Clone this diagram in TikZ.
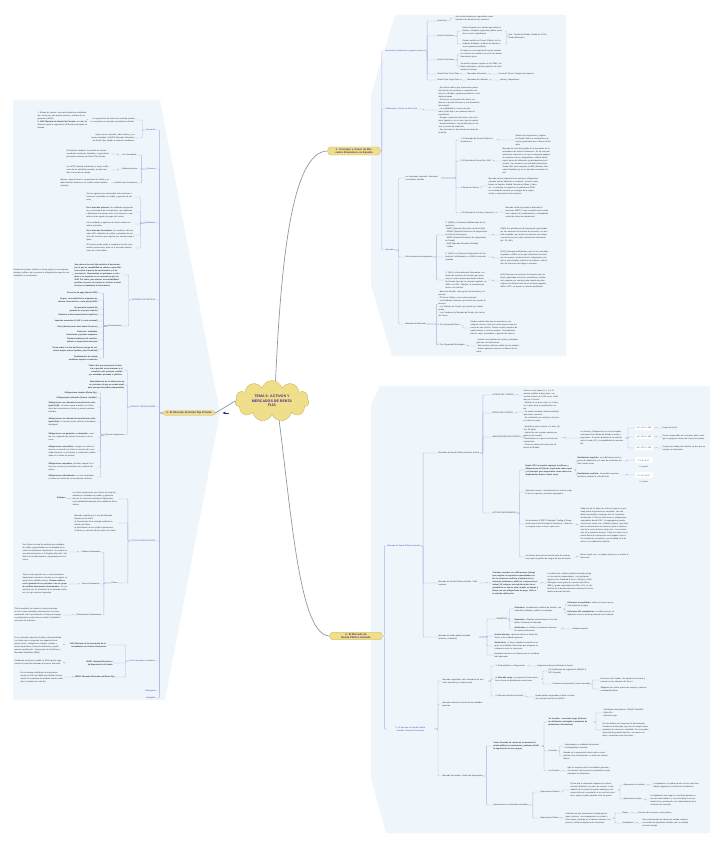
\documentclass[tikz,border=0pt]{standalone}
\usepackage{fontspec}
\setmainfont{Liberation Sans}
\usetikzlibrary{shapes.symbols,arrows.meta}
\definecolor{panel}{HTML}{EEF6FC}
\definecolor{brc}{HTML}{B2B0E0}
\definecolor{labc}{HTML}{5B3FA8}
\definecolor{txtc}{HTML}{333333}
\definecolor{hdrc}{HTML}{EFDF8A}
\definecolor{hdrd}{HTML}{CDB860}
\definecolor{hdrt}{HTML}{4B2D8E}
\definecolor{mcc}{HTML}{8D98AA}
\definecolor{arrc}{HTML}{2E2A8C}
\newcommand\tfs{\fontsize{2.0}{3}\selectfont}
\newcommand\hfs{\fontsize{2.6}{3.3}\selectfont\bfseries}
\tikzset{
  tx/.style={font=\tfs, align=left, inner sep=0.3pt, text=txtc, anchor=west},
  txr/.style={font=\tfs, align=right, inner sep=0.3pt, text=txtc, anchor=east},
  lab/.style={tx, text=labc},
  labr/.style={txr, text=labc},
  bx/.style={font=\tfs\bfseries},
  hdr/.style={fill=hdrc, draw=hdrd, line width=0.3pt, rounded corners=3pt, font=\hfs, text=hdrt, align=center, inner sep=1.2pt},
  br/.style={draw=brc, line width=0.35pt, rounded corners=0.8pt},
  mc/.style={draw=mcc, line width=0.7pt},
  fbox/.style={fill=white, rounded corners=1pt, font=\fontsize{1.9}{2.5}\selectfont, inner sep=1.2pt, text=txtc, minimum width=18pt},
  capt/.style={font=\fontsize{1.8}{2.4}\selectfont, text=txtc, inner sep=0.3pt},
}
\newcommand\rcon[3]{\draw[br] (#1.east) -- ++(#3,0) |- (#2.west);}
\newcommand\lcon[3]{\draw[br] (#1.west) -- ++(-#3,0) |- (#2.east);}
\begin{document}
\begin{tikzpicture}[x=1pt,y=-1pt]
\useasboundingbox (0,0) rectangle (724,848);
\fill[white] (0,0) rectangle (724,848);
% panels
\fill[panel] (395,15) -- (566,15) -- (566,356) -- (392,356) -- (371,285) -- (371,95) -- cycle;
\fill[panel] (380,386) -- (710,386) -- (710,833) -- (386,833) -- (371,778) -- (371,405) -- cycle;
\fill[panel] (13,100) -- (160,100) -- (220,413) -- (165,700) -- (13,700) -- cycle;

% central
\node[cloud, cloud puffs=11, aspect=1.9, fill=hdrc, draw=hdrd, line width=0.4pt, minimum width=74pt, minimum height=40pt, inner sep=0pt, font=\fontsize{3.6}{4.6}\selectfont\bfseries, text=hdrt, align=center] (ct) at (272,401) {TEMA 5: ACTIVOS Y\\MERCADOS DE RENTA\\FIJA};

\node[hdr, text width=50] (b1) at (354,151) {1. Concepto y clases de Mercados Financieros en España};
\node[hdr, text width=50] (b2) at (356,636) {2. El Mercado de Deuda Pública Anotado};
\node[hdr, text width=50] (b3) at (189,413) {3. El Mercado de Renta Fija Privada};

\draw[mc] (ct.80) .. controls (281,260) and (292,151) .. (b1.west);
\draw[mc] (ct.290) .. controls (292,520) and (300,636) .. (b2.west);
\draw[mc] (ct.west) -- (b3.east);
\draw[arrc, line width=0.6pt, -{Latex[length=3pt,width=3pt]}] ([xshift=14pt]b3.east) -- ([xshift=7pt]b3.east);

%================ TOP PANEL =================
\node[lab] (p1) at (385,51) {Innovación, instrumentos y agentes emisores};
\node[lab] (p2) at (385,109) {Definiciones: Pasivos de Renta Fija};
\node[lab] (p3) at (385,250) {Mercados};
\rcon{b1}{p1}{1.5}\rcon{b1}{p2}{1.5}\rcon{b1}{p3}{1.5}

\node[tx] (c11) at (437,21) {Renta Fija};
\node[tx, text width=40] (c11a) at (455,18) {Son activos financieros negociables representativos de deuda de sus emisores};
\node[tx] (c12) at (437,36) {Renta Fija Pública};
\node[tx, text width=42] (c12a) at (462,31) {Están integrados por valores que emiten el Estado o cualquier organismo público (emitidos en serie o plataforma)};
\node[tx, text width=42] (c12b) at (462,44) {Pueden emitirlos el Tesoro Público, las Sociedades Estatales, el Banco de España y otros organismos públicos};
\node[tx, text width=44] (c12c) at (508,36) {Ejm.: Deuda del Estado, Deuda de CCAA, Deuda Municipal...};
\node[tx] (c13) at (437,60) {Renta Fija Privada};
\node[tx, text width=43] (c13a) at (460,54) {El emisor es una empresa del sector privado. Los valores son emitidos con el fin de obtener financiación ajena};
\node[tx, text width=43] (c13b) at (460,67) {Su emisión requiere registro en la CNMV, con folleto informativo y demás requisitos de información al inversor};
\node[tx] (c14) at (437,74) {Renta Fija a Corto Plazo};
\node[tx] (c14a) at (467,74) {Mercados Monetarios};
\node[tx] (c14b) at (498,74) {Letras del Tesoro, Pagarés de empresa...};
\node[tx] (c15) at (437,80) {Renta Fija a Largo Plazo};
\node[tx] (c15a) at (467,80) {Mercados de Capitales};
\node[tx] (c15b) at (500,80) {Bonos y obligaciones};
\rcon{p1}{c11}{1}\rcon{p1}{c12}{1}\rcon{p1}{c13}{1}\rcon{p1}{c14}{1}\rcon{p1}{c15}{1}
\rcon{c11}{c11a}{3}
\rcon{c12}{c12a}{3}\rcon{c12}{c12b}{3}
\rcon{c12a}{c12c}{1.5}\rcon{c12b}{c12c}{1.5}
\rcon{c13}{c13a}{3}\rcon{c13}{c13b}{3}
\rcon{c14}{c14a}{1}\rcon{c14a}{c14b}{2}
\rcon{c15}{c15a}{1}\rcon{c15a}{c15b}{2}

\node[tx, text width=42] (d1) at (438,110) {- Son títulos valores que representan partes alícuotas de un préstamo o empréstito emitido por el Estado, organismos públicos o entidades privadas.\\- El inversor es acreedor del emisor, con derecho a percibir intereses y a la devolución del principal.\\- La rentabilidad se conoce de antemano (renta fija) si se mantiene hasta el vencimiento.\\- Riesgos: insolvencia del emisor, tipo de interés, liquidez y, en su caso, tipo de cambio.\\- Normativa básica: Ley del Mercado de Valores y normas de desarrollo.\\- Sus mercados se denominan mercados de renta fija.};
\rcon{p2}{d1}{6}

\node[tx, text width=35] (m1) at (405,178) {Los mercados regulados: Mercados secundarios oficiales};
\node[tx] (m2) at (405,257) {Otros sistemas de negociación};
\node[tx] (m3) at (405,324) {Miembros del Mercado};
\rcon{p3}{m1}{4}\rcon{p3}{m2}{4}\rcon{p3}{m3}{4}

\node[tx, text width=35] (m11) at (460,140) {1. El Mercado de Deuda Pública en Anotaciones};
\node[tx, text width=36] (m11a) at (515,140) {Sistema de negociación y registro de Deuda Pública en anotaciones en cuenta, gestionado por el Banco de España};
\node[tx] (m12) at (460,161) {2. El Mercado de Renta Fija: AIAF};
\node[tx, text width=48] (m12a) at (502,161) {Mercado de renta fija privada de la Asociación de Intermediarios de Activos Financieros. Es un mercado electrónico mayorista en el que se negocian pagarés de empresa, bonos y obligaciones, cédulas hipotecarias, bonos de titulización y participaciones preferentes. Sus miembros son entidades financieras. Desde 2001 está integrado en BME (Bolsas y Mercados Españoles) y es un mercado secundario oficial.};
\node[tx] (m13) at (460,188) {3. Bolsas de Valores};
\node[tx, text width=50] (m13a) at (488,186) {Mercado para la negociación de acciones, obligaciones y demás valores admitidos a cotización. Existen cuatro bolsas en España: Madrid, Barcelona, Bilbao y Valencia. La renta fija se negocia en la plataforma SEND. Las sociedades rectoras se encargan de la organización y supervisión de las sesiones.};
\node[tx] (m14) at (460,213) {4. El Mercado de Futuros y Opciones};
\node[tx, text width=45] (m14a) at (505,212) {Mercado oficial de productos derivados financieros (MEFF), cuya sociedad rectora actúa como cámara de compensación y contrapartida central de todas las operaciones.};
\rcon{m1}{m11}{15}\rcon{m1}{m12}{15}\rcon{m1}{m13}{15}\rcon{m1}{m14}{15}
\rcon{m11}{m11a}{2}\rcon{m12}{m12a}{2}\rcon{m13}{m13a}{2}\rcon{m14}{m14a}{2}

\node[tx, text width=42] (m21) at (445,235) {1. (SMN) Los Sistemas Multilaterales de Negociación:\\- MARF (Mercado Alternativo de Renta Fija)\\- SENAF (Sistema Electrónico de Negociación de Activos Financieros)\\- SEND (Sistema Electrónico de Negociación de Deuda)\\- MAB (Mercado Alternativo Bursátil)\\- Latibex};
\node[tx, text width=48] (m21a) at (500,235) {(SMN) Son plataformas de negociación gestionadas por una empresa de servicios de inversión o un mercado regulado, que reúnen los intereses de compra y venta de terceros sobre instrumentos financieros (art. 26 LMV).};
\node[tx, text width=42] (m22) at (445,257) {2. (SOC) Los Sistemas Organizados de Contratación: multilaterales, no SMN ni mercado regulado.};
\node[tx, text width=48] (m22a) at (500,258) {(SOC) Sistemas multilaterales, que no son mercados regulados ni SMN, en los que interactúan los intereses de compra y venta de bonos, obligaciones, productos estructurados, derechos de emisión o derivados, de forma que den lugar a contratos.};
\node[tx, text width=42] (m23) at (445,280) {3. (SIS) La Internalización Sistemática: empresas de servicios de inversión que negocian por cuenta propia ejecutando órdenes de clientes fuera de un mercado regulado, un SMN o un SOC. Objetivo: la transparencia frente a los clientes.};
\node[tx, text width=48] (m23a) at (500,281) {(SIS) Empresas de servicios de inversión que, de forma organizada, frecuente, sistemática y sustancial, negocian por cuenta propia cuando ejecutan órdenes de clientes fuera de un mercado regulado, SMN o SOC, sin operar un sistema multilateral.};
\rcon{m2}{m21}{3}\rcon{m2}{m22}{3}\rcon{m2}{m23}{3}
\rcon{m21}{m21a}{5}\rcon{m22}{m22a}{5}\rcon{m23}{m23a}{5}

\node[tx, text width=48] (m31) at (438,304) {- Banco de España, como gestor del mercado y supervisor.\\- El Tesoro Público, como emisor principal.\\- Las Entidades Gestoras, que actúan por cuenta de terceros.\\- Los Titulares de Cuenta, que operan por cuenta propia.\\- Los Creadores de Mercado de Deuda y de Letras del Tesoro.};
\node[tx] (m32) at (437,325) {1. Con Capacidad Plena};
\node[tx, text width=48] (m32a) at (470,328) {Pueden realizar todo tipo de operaciones con cualquier tercero, tanto por cuenta propia como por cuenta de sus clientes. Deben cumplir requisitos de capital mínimo y recursos propios. Principalmente bancos, cajas, sociedades y agencias de valores.};
\node[tx] (m33) at (437,345) {2. Con Capacidad Restringida};
\node[tx, text width=44] (m33a) at (476,346) {- Actúan como titulares de cuenta y entidades gestoras con limitaciones.\\- Sólo pueden mantener saldos de sus clientes.\\- Deben mantener cuenta en el Banco de España.};
\rcon{m3}{m31}{10}\rcon{m3}{m32}{10}\rcon{m3}{m33}{10}
\rcon{m32}{m32a}{3}\rcon{m33}{m33a}{3}

%================ BOTTOM PANEL =================
\node[lab] (q1) at (387,546) {Mercado de Deuda Pública Anotada};
\node[lab, text width=46, align=center] (q2) at (387,729) {2. El Mercado de Deuda Pública Anotado. Mercado Secundario};
\rcon{b2}{q1}{2}\rcon{b2}{q2}{2}

\node[tx] (q11) at (438,453) {Mercados de Deuda Pública Anotada. Activos};
\node[tx, text width=40] (q12) at (438,583) {Mercado de Deuda Pública Anotada. Calificaciones};
\node[tx, text width=40] (q13) at (438,637) {Mercado de deuda pública anotada (emisión y subastas)};
\rcon{q1}{q11}{3}\rcon{q1}{q12}{3}\rcon{q1}{q13}{3}

\node[tx] (q111) at (492,395) {LETRAS DEL TESORO};
\node[tx, text width=36] (q111a) at (523,395) {Activos a corto plazo (3, 6, 9 y 12 meses) emitidos al descuento, con nominal mínimo de 1.000 euros. Emitidas por el Tesoro};
\node[tx] (q112) at (492,413) {BONOS DEL ESTADO};
\node[tx, text width=36] (q112a) at (523,412) {- Emitidos a un plazo entre 2 y 5 años, con cupón anual y amortización a la par.\\- Se emiten mediante subasta ordinaria quincenal o mensual.\\- Su rendimiento es explícito y el precio se cotiza ex-cupón.};
\node[tx] (q113) at (492,437) {OBLIGACIONES DEL ESTADO};
\node[tx, text width=37] (q113a) at (523,437.5) {- Emitidas a plazo superior a 5 años (10, 15 y 30 años).\\- Interés fijo con cupones anuales pagaderos por vencido.\\- Amortización a la par en la fecha de vencimiento.\\- Tienen la misma estructura que los Bonos del Estado.};
\node[tx, text width=44] (q113b) at (580,438) {Los Bonos y Obligaciones son los principales instrumentos de deuda del Estado a medio y largo plazo. Su precio depende de la relación entre el cupón (C) y la rentabilidad de mercado (R).};
\node[fbox] (fa) at (644,428) {si C = R, P = 100};
\node[fbox] (fb) at (644,437) {si C > R, P > 100};
\node[fbox] (fc) at (644,448) {si C < R, P < 100};
\node[tx] (fa1) at (662,428) {Compra a la Par};
\node[tx, text width=46] (fb1) at (662,437) {Precio comprendido en la compra, quiere decir que se paga por encima de la par (con prima).};
\node[tx, text width=44] (fc1) at (662,448) {Compra por debajo del nominal; se dice que se compra con descuento.};
\node[tx] (q114) at (492,513) {ACTIVOS SEGREGADOS};
\rcon{q11}{q111}{3}\rcon{q11}{q112}{3}\rcon{q11}{q113}{3}\rcon{q11}{q114}{3}
\rcon{q111}{q111a}{3}\rcon{q112}{q112a}{3}\rcon{q113}{q113a}{3}
\rcon{q113a}{q113b}{4}
\rcon{q113b}{fa}{3}\rcon{q113b}{fb}{3}\rcon{q113b}{fc}{3}
\rcon{fa}{fa1}{3}\rcon{fb}{fb1}{3}\rcon{fc}{fc1}{3}

\node[tx, bx, text width=48] (s1) at (525,470) {Desde 1997 se pueden segregar los Bonos y Obligaciones del Estado, separando cada cupón y el principal, para negociarlos como valores independientes (bonos cupón cero).};
\node[tx, text width=48] (s2) at (525,492) {Operación inversa: reconstitución de un bono a partir de sus cupones y principal segregados.};
\node[tx, text width=48] (s3) at (525,524) {Se denominan STRIPS (Separate Trading of Registered Interest and Principal of Securities). Cada uno se negocia como un bono cupón cero.};
\node[tx, text width=48] (s4) at (525,557) {Se utilizan tanto para la inmunización de carteras como para la gestión de riesgos de tipo de interés.};
\rcon{q114}{s1}{3}\rcon{q114}{s2}{3}\rcon{q114}{s3}{3}\rcon{q114}{s4}{3}

\node[tx, text width=45] (s1a) at (577,461) {\textbf{Rendimiento implícito:} es la diferencia entre el precio de adquisición y el valor de reembolso del título (cupón cero).};
\node[tx, text width=45] (s1b) at (577,475) {\textbf{Rendimiento explícito:} se perciben cupones periódicos durante la vida del título.};
\node[fbox] (f1) at (644,460) {P = N / (1+i)\textsuperscript{t}};
\node[capt] (f1c) at (644,467.5) {R. implícito};
\node[fbox] (f2) at (644,475) {P = Σ C / (1+i)\textsuperscript{t}};
\node[capt] (f2c) at (644,482.5) {R. explícito};
\rcon{s1}{s1a}{2}\rcon{s1}{s1b}{2}
\rcon{s1a}{f1}{4}\rcon{s1b}{f2}{4}
\node[tx, text width=48] (s3a) at (580,525) {Cada uno de los flujos de un bono (cupones y principal) puede negociarse por separado. Las entidades autorizadas a segregar son los Creadores de Mercado. El Tesoro emite bonos y obligaciones segregables desde 1997. La segregación permite crear bonos cupón cero a distintos plazos, muy útiles para la inmunización de carteras y para la construcción de la curva de tipos cupón cero. La reconstitución es la operación inversa. Todos los strips con la misma fecha de vencimiento son fungibles entre sí. Su rendimiento es implícito y su fiscalidad es la de activos con rendimiento implícito.};
\node[tx, text width=48] (s4a) at (580,556) {Bonos cupón cero: no pagan cupones y se emiten al descuento.};
\rcon{s3}{s3a}{3}\rcon{s4}{s4a}{3}

\node[tx, bx, text width=46] (q12a) at (492,583) {Conviene recordar las calificaciones (rating) que asignan las agencias especializadas sobre la solvencia crediticia y liquidez de los emisores (soberanos, públicos y empresas privadas). El rating es una opinión sobre la capacidad de un emisor para cumplir en tiempo y forma con sus obligaciones de pago. AAA es la máxima calificación.};
\node[tx, text width=46] (q12b) at (547,583) {La calificación crediticia (también llamada rating) es una opinión independiente. Las principales agencias son Standard \& Poor's, Moody's y Fitch. Distinguen entre grado de inversión (de AAA a BBB-) y grado especulativo (de BB+ a D). La calificación de la deuda soberana condiciona la de los demás emisores del país.};
\rcon{q12}{q12a}{8}\rcon{q12a}{q12b}{3}

\node[tx] (q131) at (496,619) {SUBASTAS};
\node[tx, text width=48] (q1311) at (514,609) {\textbf{Ordinarias:} procedimiento habitual de emisión, con calendario prefijado y público de subastas.};
\node[tx, text width=48] (q1312) at (514,621) {\textbf{Especiales:} dirigidas exclusivamente a las entidades Creadoras de Mercado.};
\node[tx, text width=45] (q1313) at (514,629) {\textbf{Sindicadas:} se utilizan en primeras emisiones de nuevas referencias.};
\node[tx, text width=48] (q1311a) at (567,604) {\textbf{Peticiones competitivas:} indican el precio que se está dispuesto a pagar.};
\node[tx, text width=50] (q1311b) at (567,613) {\textbf{Peticiones NO competitivas:} no indican precio; se adjudican al precio medio ponderado de la subasta.};
\node[tx] (q1313a) at (572,629) {Subasta especial};
\node[tx, text width=45] (q132) at (494,636) {\textbf{Ventas directas:} operación directa a través del Tesoro o de entidades gestoras.};
\node[tx, text width=45] (q133) at (494,646) {\textbf{Sindicación:} el Tesoro adjudica la emisión a un grupo de entidades financieras que aseguran su colocación entre los inversores.};
\node[tx, text width=45] (q134) at (494,655) {Empleado cuando es el método que se considera más adecuado.};
\rcon{q13}{q131}{8}\rcon{q13}{q132}{8}\rcon{q13}{q133}{8}\rcon{q13}{q134}{8}
\rcon{q131}{q1311}{2}\rcon{q131}{q1312}{2}\rcon{q131}{q1313}{2}
\rcon{q1311}{q1311a}{2}\rcon{q1311}{q1311b}{2}\rcon{q1313}{q1313a}{3}

\node[tx, text width=45] (q21) at (442,681) {Mercado organizado, entre miembros del mercado actuando por cuenta propia};
\node[tx, text width=45] (q22) at (442,704) {Mercado minorista a través de las entidades gestoras};
\node[tx] (q23) at (442,776) {Mercado Secundario. Ámbito de Negociación};
\rcon{q2}{q21}{4}\rcon{q2}{q22}{4}\rcon{q2}{q23}{4}

\node[tx] (q211) at (495,666) {1. Sistema Blanco o Negociación};
\node[tx] (q211a) at (537,666) {Negociación directa utilizando un broker};
\node[tx, text width=45] (q212) at (495,679) {\textbf{2. Mercado ciego:} se negocia de forma anónima a través de plataformas electrónicas};
\node[tx, text width=42] (q212a) at (548,671) {(1) Plataformas de negociación (SENAF \& MTS España)};
\node[tx] (q212b) at (552,684) {Creadores de mercado (o tercer mercado)};
\node[tx, text width=48] (q212c) at (600,680) {Funciones del Creador: dar liquidez al mercado y comprar en las subastas del Tesoro.};
\node[tx, text width=48] (q212d) at (600,689) {Obligación de cotizar precios de compra y venta en contrapartida diaria.};
\node[tx] (q213) at (495,696) {3. Mercado electrónico bursátil};
\node[tx, text width=42] (q213a) at (535,697) {Deuda pública negociada en Bolsa a través del mercado electrónico (SEND).};
\rcon{q21}{q211}{3}\rcon{q21}{q212}{3}\rcon{q21}{q213}{3}
\rcon{q211}{q211a}{3}\rcon{q212}{q212a}{2}\rcon{q212}{q212b}{2}
\rcon{q212b}{q212c}{2}\rcon{q212b}{q212d}{2}\rcon{q213}{q213a}{3}

\node[tx, bx, text width=47] (q231) at (493,746) {Como fórmulas de cuenta en el mercado de deuda pública en anotaciones, podemos dividir la negociación en tres grupos};
\node[tx] (q232) at (493,805) {Operaciones en el mercado secundario};
\rcon{q23}{q231}{3}\rcon{q23}{q232}{3}

\node[tx, bx, text width=44] (e1) at (548,722) {1er escalón: o mercado ciego (Sistema de utilización restringida a miembros de plataformas electrónicas)};
\node[tx, text width=46] (e1a) at (602,713) {- Plataformas electrónicas: SENAF, EuroMTS\\- BrokerTec\\- Mercado ciego};
\node[tx, text width=46] (e1b) at (602,730) {En este ámbito sólo negocian los denominados Creadores de Mercado, que han de cumplir ciertos requisitos de solvencia y actividad. Es un mercado mayorista de grandes importes, con precios en firme y anonimato entre las partes.};
\node[tx] (e2) at (548,751) {2 escalón};
\node[tx, text width=45] (e2a) at (563,746) {- Intermediarios y entidades financieras\\- Contrapartidas conocidas};
\node[tx, text width=46] (e2b) at (563,756) {Basado en la negociación directa entre contrapartidas, bien directamente o a través de intermediarios.};
\node[tx] (e3) at (548,771) {3 er Escalón};
\node[tx, text width=46] (e3a) at (567,771) {Aquí se negocia entre las entidades gestoras y sus clientes, tanto inversores particulares como empresas no financieras.};
\rcon{q231}{e1}{3}\rcon{q231}{e2}{3}\rcon{q231}{e3}{3}
\rcon{e1}{e1a}{3}\rcon{e1}{e1b}{3}
\rcon{e2}{e2a}{2}\rcon{e2}{e2b}{2}\rcon{e3}{e3a}{3}

\node[tx] (o1) at (540,792) {Operaciones Simples};
\node[tx, text width=46] (o1a) at (570,790) {En las que el comprador adquiere los valores de forma definitiva, sin pacto de reventa. La liquidación de la operación puede realizarse en la misma fecha de contratación o en una fecha posterior, según el plazo pactado entre las partes.};
\node[tx] (o1b) at (623,785) {Operaciones al contado};
\node[tx, text width=48] (o1c) at (653,785) {La liquidación se produce dentro de los cinco días hábiles siguientes a la fecha de contratación.};
\node[tx] (o1d) at (623,799) {Operaciones a plazo};
\node[tx, text width=48] (o1e) at (650,800) {La liquidación tiene lugar en una fecha posterior a los cinco días hábiles, a un precio fijado en el momento de la contratación, con independencia de la evolución del mercado.};
\node[tx] (o2) at (540,818) {Operaciones Dobles};
\node[tx, text width=46] (o2a) at (565,818) {Consisten en dos operaciones simultáneas de signo contrario: una compraventa al contado y otra a plazo, pactadas en el mismo momento, con precios y fechas prefijadas entre las partes.};
\node[tx] (o2b) at (622,813) {Repos};
\node[tx] (o2c) at (637,813) {Con pacto de recompra, venta a plazo};
\node[tx] (o2d) at (622,823) {Simultáneas};
\node[tx, text width=46] (o2e) at (642,823) {Dos compraventas de valores de sentido contrario, con fechas de liquidación distintas, que se realizan al mismo tiempo.};
\rcon{q232}{o1}{4}\rcon{q232}{o2}{4}
\rcon{o1}{o1a}{3}\rcon{o1a}{o1b}{3}\rcon{o1a}{o1d}{3}
\rcon{o1b}{o1c}{3}\rcon{o1d}{o1e}{3}
\rcon{o2}{o2a}{2}\rcon{o2a}{o2b}{3}\rcon{o2a}{o2d}{3}
\rcon{o2b}{o2c}{3}\rcon{o2d}{o2e}{3}

%================ LEFT PANEL =================
\node[labr] (r1) at (156,130) {Mercados};
\node[labr] (r2) at (156,169) {Emisores};
\node[labr] (r3) at (156,223) {Mediadores};
\node[labr] (r4) at (156,300) {PAGARÉS DE EMPRESA};
\node[labr] (r5) at (156,407) {BONOS Y OBLIGACIONES};
\node[labr] (r6) at (156,541) {TÍTULOS HIPOTECARIOS};
\node[labr] (r7) at (156,661) {Otros mercados secundarios};
\node[labr] (r8) at (156,691) {Bibliografía};
\node[labr] (r9) at (156,698) {Webgrafía};
\lcon{b3}{r1}{3}\lcon{b3}{r2}{3}\lcon{b3}{r3}{3}\lcon{b3}{r4}{3}\lcon{b3}{r5}{3}
\lcon{b3}{r6}{3}\lcon{b3}{r7}{3}\lcon{b3}{r8}{3}\lcon{b3}{r9}{3}

\node[txr, text width=45] (r11) at (135,120) {La negociación de activos de renta fija privada se concentra en mercados secundarios oficiales.};
\node[txr, text width=45] (r12) at (135,138) {Hay un tercer mercado, más reciente y con menos actividad: el MARF (Mercado Alternativo de Renta Fija), dirigido a empresas medianas.};
\node[txr, text width=50, align=left] (r111) at (88,120) {1. Bolsas de Valores: mercado electrónico multilateral que cuenta con sus propias normas y sistema de negociación (SEND).\\\textbf{2. AIAF Mercado de Renta Fija Privada:} mercado de referencia para la negociación de deuda corporativa en España.};
\lcon{r1}{r11}{4}\lcon{r1}{r12}{4}\lcon{r11}{r111}{2}

\node[txr] (r21) at (137,155) {Las Sociedades};
\node[txr] (r22) at (138,169) {Administraciones};
\node[txr] (r23) at (138,183) {Instituciones Financieras};
\node[txr, text width=44, align=left] (r21a) at (111,154) {Se financian mediante la emisión de valores: sociedades anónimas, limitadas y cooperativas, principales emisores de Renta Fija Privada.};
\node[txr, text width=44, align=left] (r22a) at (111,170) {Las AAPP (estatal, autonómica y local), a diferencia de las entidades privadas, acuden también al mercado de deuda.};
\node[txr, text width=50, align=left] (r23a) at (111,183) {Bancos, cajas de ahorro, cooperativas de crédito y establecimientos financieros de crédito emiten también renta fija.};
\lcon{r2}{r21}{5}\lcon{r2}{r22}{5}\lcon{r2}{r23}{5}
\lcon{r21}{r21a}{4}\lcon{r22}{r22a}{4}\lcon{r23}{r23a}{1}

\node[txr, text width=48, align=left] (r31) at (135,197) {Son los agentes que intermedian entre emisores e inversores (entidades de crédito y agencias de valores).};
\node[txr, text width=48, align=left] (r32) at (135,212) {\textbf{En el mercado primario:} las entidades aseguradoras y colocadoras de las emisiones, que adquieren y distribuyen los valores entre los inversores, o que actúan como agente de pagos del emisor.};
\node[txr, text width=48, align=left] (r33) at (135,224) {Las sociedades y agencias de valores actúan en ambos mercados.};
\node[txr, text width=48, align=left] (r34) at (135,235) {\textbf{En el mercado Secundario:} los miembros del mercado AIAF, entidades de crédito y empresas de servicios de inversión que negocian por cuenta propia o ajena.};
\node[txr, text width=48, align=left] (r35) at (135,248) {El inversor puede acudir a cualquiera de ellos para realizar operaciones, tanto en el mercado primario como en el secundario.};
\lcon{r3}{r31}{4}\lcon{r3}{r32}{4}\lcon{r3}{r33}{4}\lcon{r3}{r34}{4}\lcon{r3}{r35}{4}

\node[txr, bx, text width=48, align=left] (r41) at (123,275) {Son valores de renta fija emitidos al descuento, por lo que su rentabilidad se obtiene como diferencia entre el precio de amortización y el de suscripción. Representan un préstamo a corto plazo y se negocian en un mercado propio de AIAF. Por tanto, para obtener una rentabilidad positiva, el precio de compra es inferior al nominal que se reembolsa al vencimiento.};
\node[txr, text width=58, align=left] (r41a) at (72,273) {Documento privado, emitido en forma legal por una empresa privada o pública, que reconoce la obligación de pago de una cantidad a su vencimiento.};
\node[txr] (r42) at (122,326) {Características};
\lcon{r4}{r41}{3}\lcon{r4}{r42}{3}\lcon{r41}{r41a}{2}
\node[txr, bx, text width=46] (k1) at (98,293) {Procesos de pago (desde 1982)};
\node[txr, bx, text width=46] (k2) at (98,300) {Origen: necesidad de las empresas de obtener financiación a corto plazo (1982)};
\node[txr, bx, text width=46] (k3) at (98,309) {Sin garantía especial (la garantía es el propio emisor)};
\node[txr, bx, text width=46] (k4) at (98,315) {Emitidos al descuento (Interés implícito)};
\node[txr, bx, text width=46] (k5) at (98,321) {Importes nominales (1.000 € o más nominal)};
\node[txr, bx, text width=46] (k6) at (98,327) {Plazo (desde pocos días hasta 25 meses)};
\node[txr, bx, text width=46] (k7) at (98,333) {Emisores: entidades financieras y grandes empresas};
\node[txr, bx, text width=46] (k8) at (98,340) {Sistema tradicional de emisión: subasta o negociación bancaria};
\node[txr, bx, text width=46] (k9) at (98,349) {Prima sobre la Letra del Tesoro (riesgo de solvencia mayor, menor liquidez, peor fiscalidad)};
\node[txr, bx, text width=46] (k10) at (98,358) {Rendimientos de capital mobiliario sujetos a retención};
\lcon{r42}{k1}{4}\lcon{r42}{k2}{4}\lcon{r42}{k3}{4}\lcon{r42}{k4}{4}\lcon{r42}{k5}{4}
\lcon{r42}{k6}{4}\lcon{r42}{k7}{4}\lcon{r42}{k8}{4}\lcon{r42}{k9}{4}\lcon{r42}{k10}{4}

\node[txr, bx, text width=42] (r51) at (123,370) {Título valor que representa el derecho a percibir unos intereses y el reembolso del principal, emitido por entidades privadas o públicas.};
\node[txr, bx, text width=46] (r52) at (125,385) {Materialización en un título-valor de un préstamo al que se accede mediante suscripción pública (empréstito).};
\node[txr] (r53) at (125,435) {Tipos de obligaciones};
\lcon{r5}{r51}{3}\lcon{r5}{r52}{3}\lcon{r5}{r53}{3}
\node[txr, bx, text width=48] (t1) at (97,393) {Obligaciones simples (Renta fija)};
\node[txr, bx, text width=48] (t2) at (97,397.5) {Obligaciones indiciadas (Interés variable)};
\node[txr, text width=48, align=left] (t3) at (97,407) {\textbf{Obligaciones con cláusula de amortización anticipada (Call):} el emisor puede amortizar los títulos antes del vencimiento en fechas y precios predeterminados.};
\node[txr, text width=48, align=left] (t4) at (97,422) {\textbf{Obligaciones con cláusula de amortización anticipada (Put):} el inversor puede solicitar el reembolso anticipado.};
\node[txr, text width=48, align=left] (t5) at (97,437) {\textbf{Obligaciones con garantías o colaterales:} cuentan con la garantía de activos del emisor o de terceros.};
\node[txr, text width=48, align=left] (t6) at (97,451) {\textbf{Obligaciones convertibles:} otorgan a su titular el derecho a convertir los títulos en acciones de la sociedad emisora, en las fechas y condiciones establecidas en el folleto de emisión.};
\node[txr, text width=48, align=left] (t7) at (97,467) {\textbf{Obligaciones canjeables:} permiten canjear los títulos por acciones ya existentes en la cartera del emisor.};
\node[txr, text width=48, align=left] (t8) at (97,477) {\textbf{Obligaciones subordinadas:} en caso de quiebra se sitúan por detrás de los acreedores comunes.};
\lcon{r53}{t1}{4}\lcon{r53}{t2}{4}\lcon{r53}{t3}{4}\lcon{r53}{t4}{4}
\lcon{r53}{t5}{4}\lcon{r53}{t6}{4}\lcon{r53}{t7}{4}\lcon{r53}{t8}{4}

\node[txr, text width=45, align=left] (r61) at (118,499) {Los títulos hipotecarios son valores de renta fija emitidos por entidades de crédito y garantizados por su cartera de préstamos hipotecarios, cuya rentabilidad depende de la calidad de dicha cartera.};
\node[txr, bx] (r61a) at (66,498) {Subtipos};
\node[txr, text width=43, align=left] (r62) at (118,523) {Mercado regulado por la Ley del Mercado Hipotecario de 1981:\\a) Financiación de la vivienda mediante la emisión de títulos.\\b) Movilización de los créditos hipotecarios.\\c) Bancos y cajas de ahorro emiten los títulos.};
\node[txr] (r63) at (118,583) {Clases};
\lcon{r6}{r61}{3}\lcon{r6}{r62}{3}\lcon{r6}{r63}{3}
\draw[br] (r61a.east) -- (r61.west);
\node[txr] (h1) at (101,552) {Cédulas Hipotecarias};
\node[txr] (h2) at (100,584) {Bonos Hipotecarios};
\node[txr] (h3) at (102,615) {Participaciones Hipotecarias};
\lcon{r63}{h1}{7}\lcon{r63}{h2}{7}\lcon{r63}{h3}{7}
\node[txr, text width=46, align=left] (h1a) at (69,552) {Son títulos de renta fija emitidos por entidades de crédito y garantizados por la totalidad de su cartera de préstamos hipotecarios. Su emisión no necesita inscripción en el Registro Mercantil. Son títulos de elevada liquidez y seguridad para el inversor.};
\node[txr, text width=46, align=left] (h2a) at (69,584) {Tienen como garantía uno o varios préstamos hipotecarios concretos, inscritos en un registro especial de la entidad emisora. \textbf{Pueden emitirse con la garantía de un préstamo o de un grupo de créditos hipotecarios determinados.} Se caracterizan por su vinculación a los préstamos afectos, de cuyo volumen dependen.};
\node[txr, text width=48, align=left] (h3a) at (63,615) {Títulos mediante los cuales el inversor participa en uno o varios préstamos hipotecarios concretos, asumiendo total o parcialmente el riesgo de impago. La participación puede hacerse sobre la totalidad o una parte del préstamo.};
\lcon{h1}{h1a}{3}\lcon{h2}{h2a}{3}\lcon{h3}{h3a}{3}

\node[txr, bx, text width=40] (w1) at (107,645) {AIAF Mercado de la Asociación de Intermediarios de Activos Financieros};
\node[txr, bx, text width=46] (w2) at (113,663) {SEND: Sistema Electrónico de Negociación de Deuda};
\node[txr, bx] (w3) at (115,677) {MARF: Mercado Alternativo de Renta Fija};
\lcon{r7}{w1}{4}\lcon{r7}{w2}{4}\lcon{r7}{w3}{4}
\node[txr, text width=48, align=left] (w1a) at (63,645) {Es un mercado mayorista, flexible y descentralizado.\\Los títulos que se negocian son pagarés de empresa, bonos y obligaciones simples, cédulas y bonos hipotecarios, bonos de titulización y participaciones preferentes. Forma parte de las Bolsas y Mercados Españoles (BME).};
\node[txr, text width=48, align=left] (w2a) at (63,662) {Plataforma electrónica creada en 2010 para la negociación de renta fija destinada al inversor minorista.};
\node[txr, text width=44, align=left] (w3a) at (65,677) {Es un sistema multilateral de negociación creado en 2013 por BME para facilitar la financiación de empresas de mediano tamaño mediante la emisión de renta fija.};
\lcon{w1}{w1a}{2}\lcon{w2}{w2a}{2}\lcon{w3}{w3a}{2}
\end{tikzpicture}
\end{document}
